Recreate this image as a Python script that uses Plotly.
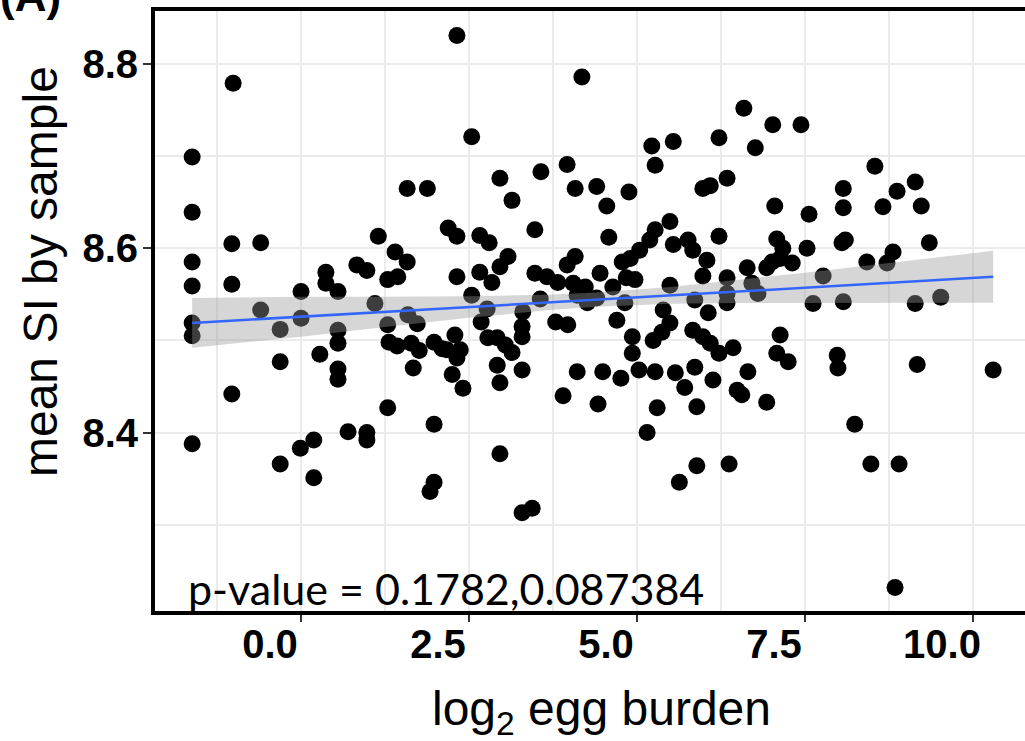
import plotly.graph_objects as go

# ---------------- data ----------------
log2_egg_burden = [
    -1.62, -1.62, -1.62, -1.62, -1.62, -1.62, -1.62, -1.01, -1.03, -1.03,
    -1.03, -0.60, -0.60, -0.31, -0.31, -0.31, 0.00, 0.00, -0.01, 0.19,
    0.19, 0.28, 0.37, 0.37, 0.55, 0.55, 0.55, 0.55, 0.55, 0.70,
    0.83, 0.98, 0.98, 0.98, 1.10, 1.15, 1.29, 1.44, 1.29, 1.29,
    1.31, 1.40, 1.58, 1.43, 1.58, 1.88, 1.59, 1.73, 1.64, 1.76,
    1.67, 1.98, 2.10, 2.25, 1.98, 1.98, 1.92, 2.19, 2.32, 2.32,
    2.29, 2.17, 2.37, 2.32, 2.41, 2.54, 2.54, 2.66, 2.66, 2.68,
    2.80, 2.77, 2.84, 2.78, 2.92, 3.04, 3.14, 2.92, 2.96, 2.96,
    3.14, 2.96, 3.08, 2.96, 3.29, 3.29, 3.29, 3.29, 3.44, 3.30,
    3.48, 3.48, 3.66, 3.56, 3.57, 3.79, 3.97, 3.82, 4.05, 4.23,
    3.96, 4.08, 3.96, 4.08, 3.90, 4.11, 4.11, 4.26, 4.40, 4.40,
    4.42, 4.49, 4.45, 4.55, 4.58, 4.64, 4.70, 4.76, 4.78, 4.90,
    4.82, 4.84, 4.97, 4.88, 4.93, 4.93, 5.03, 5.04, 5.15, 5.19,
    5.27, 5.49, 5.22, 5.27, 5.54, 5.24, 5.37, 5.49, 5.27, 5.30,
    5.39, 5.49, 5.54, 5.57, 5.71, 5.63, 5.89, 5.76, 5.83, 5.83,
    5.98, 6.09, 6.22, 5.86, 5.89, 5.86, 5.98, 6.09, 5.98, 6.04,
    6.06, 6.13, 6.22, 6.22, 6.34, 6.34, 6.34, 6.34, 6.37, 6.43,
    6.49, 6.56, 6.59, 6.64, 6.65, 6.71, 6.80, 6.76, 6.93, 7.01,
    6.93, 7.02, 7.05, 7.08, 7.17, 7.13, 7.31, 7.08, 7.13, 7.25,
    7.44, 7.53, 7.56, 7.62, 7.77, 7.98, 7.99, 8.05, 8.10, 8.07,
    8.07, 8.07, 8.24, 8.42, 8.48, 8.54, 8.66, 8.72, 8.81, 8.84,
    8.87, 8.90, 9.14, 9.14, 9.17, 9.23, 9.35, 9.52, 10.30, 2.32,
    4.18,
]
mean_si_by_sample = [
    8.699, 8.639, 8.585, 8.559, 8.519, 8.505, 8.388, 8.779, 8.605, 8.561,
    8.442, 8.606, 8.533, 8.512, 8.477, 8.366, 8.553, 8.524, 8.383, 8.392,
    8.351, 8.485, 8.574, 8.562, 8.553, 8.511, 8.497, 8.469, 8.458, 8.401,
    8.582, 8.576, 8.400, 8.392, 8.540, 8.613, 8.566, 8.569, 8.517, 8.427,
    8.498, 8.596, 8.585, 8.494, 8.665, 8.665, 8.528, 8.518, 8.497, 8.489,
    8.470, 8.498, 8.491, 8.463, 8.409, 8.346, 8.336, 8.622, 8.613, 8.569,
    8.506, 8.490, 8.490, 8.481, 8.448, 8.721, 8.549, 8.614, 8.574, 8.520,
    8.606, 8.534, 8.563, 8.503, 8.503, 8.495, 8.487, 8.473, 8.454, 8.676,
    8.652, 8.580, 8.591, 8.377, 8.515, 8.504, 8.468, 8.313, 8.318, 8.531,
    8.620, 8.573, 8.569, 8.545, 8.683, 8.520, 8.517, 8.563, 8.562, 8.558,
    8.691, 8.665, 8.582, 8.591, 8.440, 8.466, 8.549, 8.541, 8.546, 8.667,
    8.431, 8.466, 8.573, 8.646, 8.612, 8.558, 8.522, 8.459, 8.585, 8.589,
    8.541, 8.568, 8.566, 8.661, 8.504, 8.486, 8.468, 8.598, 8.400, 8.609,
    8.620, 8.629, 8.711, 8.690, 8.716, 8.500, 8.509, 8.519, 8.466, 8.427,
    8.533, 8.560, 8.604, 8.465, 8.449, 8.346, 8.364, 8.609, 8.598, 8.511,
    8.504, 8.497, 8.486, 8.471, 8.428, 8.544, 8.665, 8.668, 8.570, 8.587,
    8.530, 8.457, 8.720, 8.613, 8.676, 8.568, 8.551, 8.541, 8.366, 8.492,
    8.446, 8.441, 8.752, 8.579, 8.466, 8.562, 8.551, 8.709, 8.579, 8.585,
    8.433, 8.734, 8.646, 8.610, 8.600, 8.589, 8.584, 8.486, 8.506, 8.477,
    8.734, 8.600, 8.637, 8.540, 8.570, 8.484, 8.470, 8.606, 8.609, 8.665,
    8.644, 8.542, 8.409, 8.585, 8.366, 8.689, 8.645, 8.584, 8.596, 8.232,
    8.662, 8.366, 8.672, 8.540, 8.474, 8.646, 8.606, 8.547, 8.468, 8.831,
    8.786,
]

# fitted line and its confidence band
fit_x = [-1.62, 10.30]
fit_y = [8.519, 8.569]
band_x = [-1.62, 0.0, 1.25, 2.5, 3.75, 4.4, 5.5, 6.5, 7.5, 8.5, 10.30]
band_upper = [8.546, 8.5475, 8.5474, 8.548, 8.5498, 8.552, 8.5581, 8.5655, 8.5735, 8.5819, 8.5972]
band_lower = [8.492, 8.5041, 8.5146, 8.5246, 8.5332, 8.5366, 8.5397, 8.5407, 8.5411, 8.5411, 8.5408]

x_tick_vals = [0, 2.5, 5, 7.5, 10]
x_tick_text = ["0.0", "2.5", "5.0", "7.5", "10.0"]
x_minor_vals = [-1.25, 1.25, 3.75, 6.25, 8.75]
y_tick_vals = [8.4, 8.6, 8.8]
y_tick_text = ["8.4", "8.6", "8.8"]
y_minor_vals = [8.3, 8.5, 8.7]

panel_label = "(A)"
x_title = "log<sub>2</sub> egg burden"
y_title = "mean SI by sample"
p_text = "p-value = 0.1782,0.087384"

# ---------------- figure ----------------
W, H = 1025, 741
L, R, T, B = 155, 0, 11, 130
PW, PH = W - L - R, H - T - B

def px_x(p):
    return (p - L) / PW

def px_y(p):
    return (H - B - p) / PH

GRID = "#EBEBEB"
ARIAL = "Liberation Sans, Arial, sans-serif"

fig = go.Figure()
fig.add_trace(go.Scatter(
    x=log2_egg_burden, y=mean_si_by_sample, mode="markers",
    marker=dict(size=17, color="black", line=dict(width=0)),
    hoverinfo="skip", showlegend=False,
))
fig.add_trace(go.Scatter(
    x=band_x + band_x[::-1], y=band_upper + band_lower[::-1],
    mode="lines", fill="toself", fillcolor="rgba(153,153,153,0.4)",
    line=dict(width=0), hoverinfo="skip", showlegend=False,
))
fig.add_trace(go.Scatter(
    x=fit_x, y=fit_y, mode="lines",
    line=dict(color="#3366FF", width=2.5),
    hoverinfo="skip", showlegend=False,
))

fig.update_layout(
    width=W, height=H,
    margin=dict(l=L, r=R, t=T, b=B, autoexpand=False),
    paper_bgcolor="white", plot_bgcolor="white",
    showlegend=False,
    xaxis=dict(
        range=[-2.173, 10.774], tickmode="array",
        tickvals=x_tick_vals, ticktext=x_tick_text,
        showgrid=True, gridcolor=GRID, gridwidth=1.6,
        minor=dict(tickmode="array", tickvals=x_minor_vals, showgrid=True,
                   gridcolor=GRID, gridwidth=1.6, ticks=""),
        showline=True, linecolor="black", linewidth=4, mirror=True,
        ticks="outside", ticklen=7, tickwidth=2, tickcolor="#333333",
        tickfont=dict(family=ARIAL, size=40, color="black", weight="bold"),
        ticklabelshift=-31, ticklabelstandoff=-12,
        zeroline=False, automargin=False,
    ),
    yaxis=dict(
        range=[8.2064, 8.8575], tickmode="array",
        tickvals=y_tick_vals, ticktext=y_tick_text,
        showgrid=True, gridcolor=GRID, gridwidth=1.6,
        minor=dict(tickmode="array", tickvals=y_minor_vals, showgrid=True,
                   gridcolor=GRID, gridwidth=1.6, ticks=""),
        showline=True, linecolor="black", linewidth=4, mirror=False,
        ticks="outside", ticklen=8, tickwidth=2, tickcolor="#333333",
        tickfont=dict(family=ARIAL, size=40, color="black", weight="bold"),
        ticklabelstandoff=-3,
        zeroline=False, automargin=False,
    ),
    annotations=[
        dict(text=x_title, xref="paper", yref="paper", x=px_x(601), y=px_y(712),
             xanchor="center", yanchor="middle", showarrow=False,
             font=dict(family=ARIAL, size=48, color="black")),
        dict(text=y_title, xref="paper", yref="paper", x=px_x(40), y=px_y(272),
             xanchor="center", yanchor="middle", textangle=-90, showarrow=False,
             font=dict(family=ARIAL, size=48, color="black")),
        dict(text=p_text, xref="paper", yref="paper", x=px_x(186), y=px_y(588),
             xanchor="left", yanchor="middle", showarrow=False,
             font=dict(family="Lato, Carlito, sans-serif", size=43, color="black")),
        dict(text=panel_label, xref="paper", yref="paper", x=px_x(-2), y=px_y(22),
             xanchor="left", yanchor="bottom", showarrow=False,
             font=dict(family=ARIAL, size=44, color="black", weight="bold")),
    ],
)

fig.write_html(
    "out.html",
    config={"displayModeBar": False},
    post_script="document.body.style.margin='0';document.body.style.overflow='hidden';",
)
